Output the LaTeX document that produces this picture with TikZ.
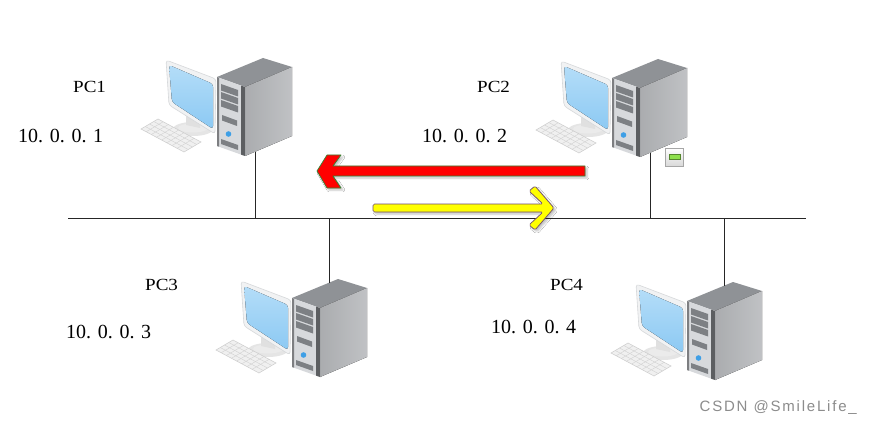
\documentclass[tikz,border=0pt]{standalone}
\usepackage{fontspec}
\setmainfont{Liberation Serif}
\setsansfont{Liberation Sans}
\usetikzlibrary{shadows.blur}

\definecolor{screenblue}{HTML}{8CC9F3}
\definecolor{screenlight}{HTML}{B4DDF8}
\definecolor{framegray}{HTML}{F1F2F3}
\definecolor{frameedge}{HTML}{D6D8DA}
\definecolor{towertop}{HTML}{8F9296}
\definecolor{towerside}{HTML}{B9BBBE}
\definecolor{towerfront}{HTML}{D7D9DC}
\definecolor{towerdark}{HTML}{5C5E61}
\definecolor{baygray}{HTML}{7D8084}
\definecolor{btnblue}{HTML}{3E9FE6}
\definecolor{arrowred}{HTML}{FF0000}
\definecolor{arrowyellow}{HTML}{FFFF00}
\definecolor{ledgreen}{HTML}{8EE04C}
\definecolor{marktext}{HTML}{8C8C8C}

\tikzset{
  wire/.style={line width=1pt, draw=black!85},
  keyline/.style={draw=black!18, line width=0.4pt},
  pc/.pic={
    % stand
    \fill[black!10] (-24,52) ellipse (20 and 7);
    \fill[white!92!black] (-24,51) ellipse (15 and 4.5);
    \fill[black!12] (-31,38) -- (-17,45) -- (-17,51) -- (-31,48) -- cycle;
    % keyboard
    \filldraw[fill=black!6, draw=black!20, line width=0.5pt]
      (-76,52) -- (-59,42) -- (-16,65) -- (-33,75) -- cycle;
    \foreach \t in {0.25,0.5,0.75}
      \draw[keyline] ({-76+17*\t},{52-10*\t}) -- ({-33+17*\t},{75-10*\t});
    \foreach \s in {0.12,0.24,...,0.9}
      \draw[keyline] ({-76+43*\s},{52+23*\s}) -- ({-59+43*\s},{42+23*\s});
    % monitor
    \filldraw[fill=framegray, draw=frameedge, line width=0.6pt, rounded corners=3]
      (-51,-17) -- (-1,2) -- (-2,57) -- (-48,28) -- cycle;
    \fill[top color=screenlight, bottom color=screenblue, rounded corners=3]
      (-48,-12) -- (-4,7) -- (-4,52) -- (-45,25) -- cycle;
    % tower
    \fill[towertop] (0,0) -- (46,-19) -- (75,-10) -- (28,10) -- cycle;
    \fill[left color=towerside!92!black, right color=towerside!90!white]
      (28,10) -- (75,-10) -- (75,59) -- (28,79) -- cycle;
    \fill[towerfront] (0,0) -- (28,10) -- (28,79) -- (0,69) -- cycle;
    \fill[towerdark] (24,8.6) -- (28,10) -- (28,79) -- (24,77.6) -- cycle;
    \fill[towerdark!80] (0,0) -- (2,0.7) -- (2,69.7) -- (0,69) -- cycle;
    \foreach \k in {0,1,2}
      \fill[baygray] (4,{7+8*\k}) -- (21,{13+8*\k}) -- (21,{19.5+8*\k}) -- (4,{13.5+8*\k}) -- cycle;
    \fill[baygray] (5,38) -- (20,43.5) -- (20,49) -- (5,43.5) -- cycle;
    \fill[btnblue] (11.5,57) circle (2.8);
    \fill[baygray] (4,62) -- (21,68) -- (21,73) -- (4,67) -- cycle;
    \coordinate (-top) at (37,-15);
    \coordinate (-bottom) at (38,75);
  },
  pcname/.style={font=\fontsize{17}{20}\selectfont\addfontfeature{FakeStretch=1.12},
    anchor=base west, inner sep=0pt},
  ipaddr/.style={font=\fontsize{20}{24}\selectfont, anchor=base west, inner sep=0pt},
  bigarrow/.style={line width=0.7pt, line join=round,
    blur shadow={shadow xshift=2pt, shadow yshift=-2pt, shadow opacity=25}}
}

\begin{document}
\begin{tikzpicture}[x=1pt, y=-1pt]
  \useasboundingbox (0,0) rectangle (873,425);
  \fill[white] (0,0) rectangle (873,425);

  \pic (P1) at (217,77) {pc};
  \pic (P2) at (612,78) {pc};
  \pic (P3) at (292,298) {pc};
  \pic (P4) at (687,301) {pc};

  \node[pcname] (L1) at (73,93) {PC1};
  \node[pcname] (L2) at (477,93) {PC2};
  \node[pcname] (L3) at (145,290) {PC3};
  \node[pcname] (L4) at (550,290) {PC4};
  \node[ipaddr] (A1) at (18,143) {10. 0. 0. 1};
  \node[ipaddr] (A2) at (422,143) {10. 0. 0. 2};
  \node[ipaddr] (A3) at (66,338) {10. 0. 0. 3};
  \node[ipaddr] (A4) at (491,333) {10. 0. 0. 4};

  % bus and drops
  \coordinate (busL) at (68,218);
  \coordinate (busR) at (806,218);
  \draw[wire] (busL) -- (busR);
  \draw[wire] (P1-bottom) -- (P1-bottom |- busL);
  \draw[wire] (P2-bottom) -- (P2-bottom |- busL);
  \draw[wire] (P3-top) -- (P3-top |- busL);
  \draw[wire] (P4-top) -- (P4-top |- busL);

  % status icon
  \filldraw[top color=white, bottom color=black!15, draw=black!35, line width=0.6pt]
    (665,148) rectangle (683,166);
  \filldraw[fill=ledgreen, draw=ledgreen!60!black, line width=0.5pt]
    (669,154) rectangle (680,159);

  % traffic arrows
  \filldraw[bigarrow, fill=arrowred, draw=green!40!black!80]
    (317,171) -- (327,155) -- (341,155) -- (333,166) -- (585,166)
    -- (585,176) -- (333,176) -- (341,188) -- (327,188) -- cycle;
  \filldraw[bigarrow, fill=arrowyellow, draw=violet!40!black!70, rounded corners=1.5pt]
    (373,204) -- (543,204) -- (529,191) -- (535,186) -- (554,208)
    -- (535,230) -- (529,225) -- (543,212) -- (373,212) -- cycle;

  \node[font=\sffamily\fontsize{15}{18}\selectfont, text=marktext, anchor=base east,
        inner sep=0pt] (W) at (857,411) {\addfontfeature{LetterSpace=12}CSDN @SmileLife\_};
\end{tikzpicture}
\end{document}
